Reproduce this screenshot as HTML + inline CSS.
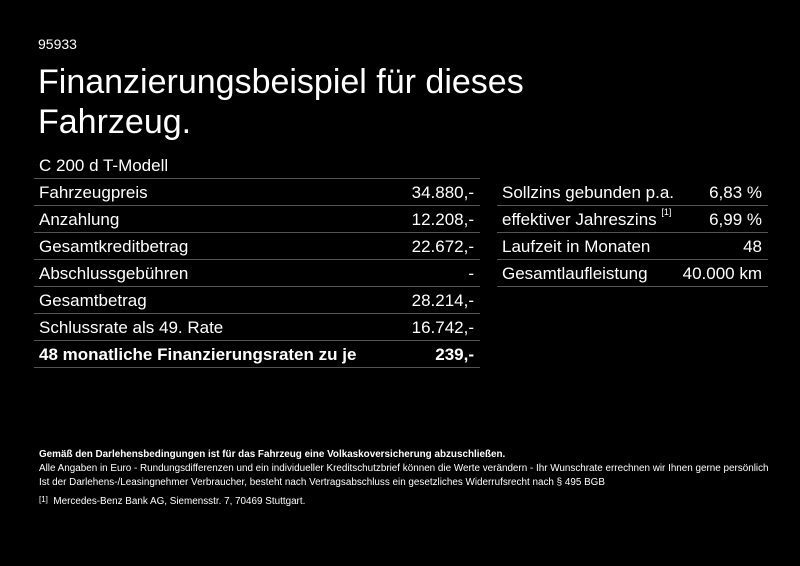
<!DOCTYPE html>
<html><head><meta charset="utf-8"><style>
*{margin:0;padding:0;box-sizing:border-box}
body{width:800px;height:566px;background:#000;color:#fff;font-family:"Liberation Sans",Arial,sans-serif;position:relative;overflow:hidden}
.a{position:absolute;white-space:nowrap}
.row{position:absolute;height:27px;border-bottom:1px solid #555;line-height:27px;font-size:17px}
.row span.v{position:absolute;right:6px;top:0}
.row span.l{position:absolute;left:5px;top:0}
.f{position:absolute;left:39px;font-size:9.9px;white-space:nowrap}
sup{font-size:9px;vertical-align:top;line-height:0;position:relative;top:6px}
</style></head><body>
<div class="a" style="left:38px;top:36px;font-size:14px">95933</div>
<div class="a" style="left:38px;top:62px;font-size:34px;line-height:40px;letter-spacing:0px">Finanzierungsbeispiel für dieses<br>Fahrzeug.</div>
<div class="row" style="left:34px;top:152px;width:446px"><span class="l">C 200 d T-Modell</span></div>
<div class="row" style="left:34px;top:179px;width:446px"><span class="l">Fahrzeugpreis</span><span class="v">34.880,-</span></div>
<div class="row" style="left:34px;top:206px;width:446px"><span class="l">Anzahlung</span><span class="v">12.208,-</span></div>
<div class="row" style="left:34px;top:233px;width:446px"><span class="l">Gesamtkreditbetrag</span><span class="v">22.672,-</span></div>
<div class="row" style="left:34px;top:260px;width:446px"><span class="l">Abschlussgebühren</span><span class="v">-</span></div>
<div class="row" style="left:34px;top:287px;width:446px"><span class="l">Gesamtbetrag</span><span class="v">28.214,-</span></div>
<div class="row" style="left:34px;top:314px;width:446px"><span class="l">Schlussrate als 49. Rate</span><span class="v">16.742,-</span></div>
<div class="row" style="left:34px;top:341px;width:446px;font-weight:bold"><span class="l">48 monatliche Finanzierungsraten zu je</span><span class="v">239,-</span></div>
<div class="row" style="left:497px;top:179px;width:271px"><span class="l">Sollzins gebunden p.a.</span><span class="v">6,83 %</span></div>
<div class="row" style="left:497px;top:206px;width:271px"><span class="l">effektiver Jahreszins <sup>[1]</sup></span><span class="v">6,99 %</span></div>
<div class="row" style="left:497px;top:233px;width:271px"><span class="l">Laufzeit in Monaten</span><span class="v">48</span></div>
<div class="row" style="left:497px;top:260px;width:271px"><span class="l">Gesamtlaufleistung</span><span class="v">40.000 km</span></div>
<div class="f" style="top:449px;font-weight:bold">Gemäß den Darlehensbedingungen ist für das Fahrzeug eine Volkaskoversicherung abzuschließen.</div>
<div class="f" style="top:463px">Alle Angaben in Euro - Rundungsdifferenzen und ein individueller Kreditschutzbrief können die Werte verändern - Ihr Wunschrate errechnen wir Ihnen gerne persönlich</div>
<div class="f" style="top:477px">Ist der Darlehens-/Leasingnehmer Verbraucher, besteht nach Vertragsabschluss ein gesetzliches Widerrufsrecht nach § 495 BGB</div>
<div class="f" style="top:495px"><span style="font-size:8px;vertical-align:2px">[1]</span>&nbsp; Mercedes-Benz Bank AG, Siemensstr. 7, 70469 Stuttgart.</div>
</body></html>
